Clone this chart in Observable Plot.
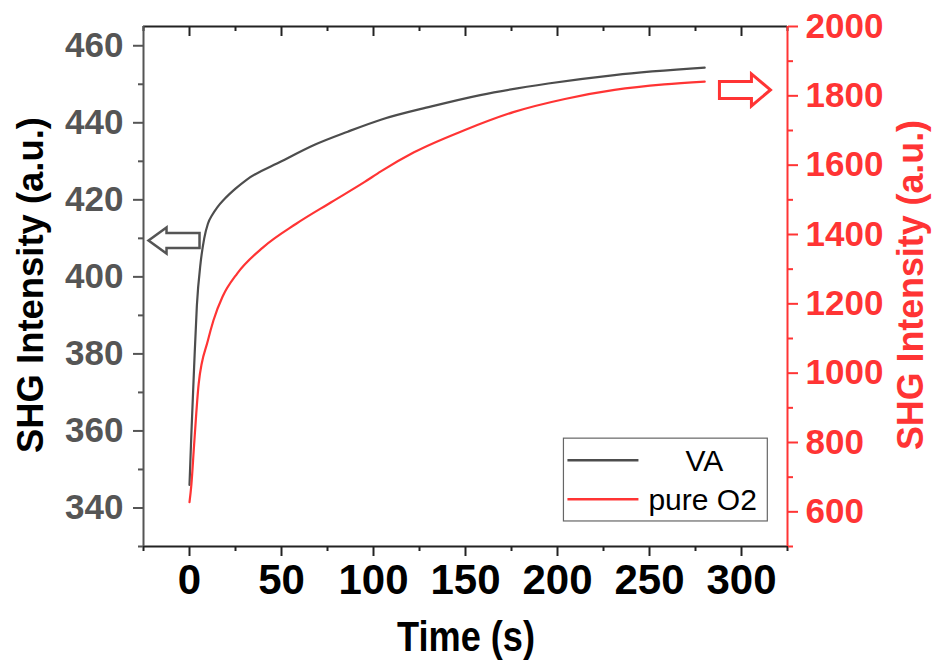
<!DOCTYPE html>
<html>
<head>
<meta charset="utf-8">
<script src="https://cdn.jsdelivr.net/npm/d3@7"></script>
<script src="https://cdn.jsdelivr.net/npm/@observablehq/plot@0.6"></script>
<style>
  html, body { margin: 0; padding: 0; background: #fff; }
  svg { display: block; }
</style>
</head>
<body>
<script>
// ---- data ----
const timeVA = [0, 1, 2.5, 4, 6, 8, 10, 12.5, 15, 19, 25, 31, 50, 68, 86, 104, 131, 158, 195, 231, 280];
const valuesVA = [346, 359, 376.5, 392.5, 403.5, 410, 413.8, 416.2, 418, 420.2, 422.9, 425.2, 430, 434.3, 437.7, 440.8, 444.2, 447.2, 450.2, 452.4, 454.3];
const timeO2 = [0, 1, 2.5, 5, 10, 13, 18, 26, 40, 58, 77, 95, 104, 122, 149, 176, 204, 231, 258, 280];
const valuesO2 = [628, 677, 793, 970, 1094, 1152, 1221, 1288, 1363, 1431, 1493, 1551, 1582, 1637, 1700, 1753, 1791, 1817, 1833, 1841];

const xTicks = [0, 50, 100, 150, 200, 250, 300];
const xMinorTicks = [-25, 25, 75, 125, 175, 225, 275, 325];
const leftTicks = [340, 360, 380, 400, 420, 440, 460];
const leftMinorTicks = [330, 350, 370, 390, 410, 430, 450];
const rightTicks = [600, 800, 1000, 1200, 1400, 1600, 1800, 2000];
const rightMinorTicks = [500, 700, 900, 1100, 1300, 1500, 1700, 1900];
const seriesNames = ["VA", "pure O2"];
const xLabel = "Time (s)";
const yLabel = "SHG Intensity (a.u.)";

const xDomain = [-25, 325];
const leftDomain = [330, 465];
const rightDomain = [500, 2000];
// the right axis shares the frame: map right values onto the left scale
const toLeft = v => leftDomain[0] + (v - rightDomain[0]) * (leftDomain[1] - leftDomain[0]) / (rightDomain[1] - rightDomain[0]);
const fromLeft = y => rightDomain[0] + (y - leftDomain[0]) * (rightDomain[1] - rightDomain[0]) / (leftDomain[1] - leftDomain[0]);

const GRAY = "#4d4d4d";
const RED = "#ff3434";
const DARK = "#222";

const vaData = timeVA.map((t, i) => ({t, v: valuesVA[i]}));
const o2Data = timeO2.map((t, i) => ({t, v: valuesO2[i]}));

const W = 939, H = 663;
const mL = 143, mR = 152, mT = 26, mB = 117;
const frameH = H - mT - mB;

const boldWide = {fontSize: 35, fontWeight: "bold", fontFamily: "Liberation Sans, Arial, sans-serif"};
const boldNarrow = {fontSize: 42, fontWeight: "bold", fontFamily: "Liberation Sans Narrow, Arial Narrow, sans-serif"};

const svg = Plot.plot({
  width: W, height: H,
  marginLeft: mL, marginRight: mR, marginTop: mT, marginBottom: mB,
  x: {domain: xDomain},
  y: {domain: leftDomain},
  style: {background: "#fff", overflow: "visible"},
  marks: [
    // bottom axis
    Plot.axisX(xTicks, {anchor: "bottom", tickSize: 10, tickPadding: 8, strokeWidth: 2, color: DARK, label: null, ...boldNarrow, fill: "#000"}),
    Plot.axisX(xMinorTicks, {anchor: "bottom", tickSize: 5, strokeWidth: 2, color: DARK, label: null, tickFormat: () => ""}),
    // top inward ticks
    Plot.ruleX(xTicks, {stroke: DARK, strokeWidth: 2, insetBottom: frameH - 10}),
    Plot.ruleX(xMinorTicks, {stroke: DARK, strokeWidth: 2, insetBottom: frameH - 5}),
    // left axis
    Plot.axisY(leftTicks, {anchor: "left", tickSize: 10, tickPadding: 10, strokeWidth: 2, color: "#555", label: null, ...boldWide}),
    Plot.axisY(leftMinorTicks, {anchor: "left", tickSize: 5, strokeWidth: 2, color: "#555", label: null, tickFormat: () => ""}),
    // right axis (red)
    Plot.axisY(rightTicks.map(toLeft), {anchor: "right", tickSize: 10, tickPadding: 8, strokeWidth: 2, color: RED, label: null, tickFormat: d => String(Math.round(fromLeft(d))), ...boldWide}),
    Plot.axisY(rightMinorTicks.map(toLeft), {anchor: "right", tickSize: 5, strokeWidth: 2, color: RED, label: null, tickFormat: () => ""}),
    // frame lines
    Plot.ruleY([leftDomain[1]], {stroke: DARK, strokeWidth: 2}),
    Plot.ruleY([leftDomain[0]], {stroke: DARK, strokeWidth: 2}),
    Plot.ruleX([xDomain[0]], {stroke: "#555", strokeWidth: 2}),
    Plot.ruleX([xDomain[1]], {stroke: RED, strokeWidth: 2}),
    // data
    Plot.line(vaData, {x: "t", y: "v", stroke: GRAY, strokeWidth: 2.2, curve: "monotone-x"}),
    Plot.line(o2Data, {x: "t", y: d => toLeft(d.v), stroke: RED, strokeWidth: 2.2, curve: "monotone-x"})
  ]
});

const xs = svg.scale("x"), ys = svg.scale("y");
const px = v => xs.apply(v), py = v => ys.apply(v);
const root = d3.select(svg);
const ff = "Liberation Sans, Arial, sans-serif";
const midY = (py(leftDomain[0]) + py(leftDomain[1])) / 2;

// axis titles
root.append("text")
  .attr("transform", `translate(43,${midY - 1}) rotate(-90)`)
  .attr("text-anchor", "middle").attr("font-family", ff).attr("font-weight", "bold")
  .attr("font-size", 36).attr("fill", "#000")
  .attr("textLength", 336).attr("lengthAdjust", "spacingAndGlyphs").text(yLabel);
root.append("text")
  .attr("transform", `translate(923,${midY - 1}) rotate(-90)`)
  .attr("text-anchor", "middle").attr("font-family", ff).attr("font-weight", "bold")
  .attr("font-size", 36).attr("fill", RED)
  .attr("textLength", 330).attr("lengthAdjust", "spacingAndGlyphs").text(yLabel);
root.append("text")
  .attr("x", (px(xDomain[0]) + px(xDomain[1])) / 2 + 1).attr("y", 651)
  .attr("text-anchor", "middle").attr("font-family", "Liberation Sans Narrow, Arial Narrow, sans-serif")
  .attr("font-weight", "bold").attr("font-size", 42).attr("fill", "#000")
  .attr("textLength", 138).attr("lengthAdjust", "spacingAndGlyphs").text(xLabel);

// hollow arrows
function arrow(tipX, cy, dir, color, sw, hl, hh, sh) {
  const L = 51;
  const p = [[0, 0], [hl, -hh], [hl, -sh], [L, -sh], [L, sh], [hl, sh], [hl, hh]]
    .map(([a, b]) => [tipX + dir * a, cy + b]);
  root.append("path").attr("d", "M" + p.map(q => q.join(",")).join("L") + "Z")
    .attr("fill", "#fff").attr("stroke", color).attr("stroke-width", sw).attr("stroke-linejoin", "miter");
}
arrow(px(-22), py(409.3), 1, "#555", 2.5, 18, 13, 7.5);
arrow(px(316), py(448.4), -1, RED, 3, 19, 16, 8.5);

// legend
const lx0 = px(203.5), lx1 = px(314.3), ly0 = py(358), ly1 = py(336.5);
root.append("rect").attr("x", lx0).attr("y", ly0).attr("width", lx1 - lx0).attr("height", ly1 - ly0)
  .attr("fill", "#fff").attr("stroke", "#666").attr("stroke-width", 1.2);
const rows = [{name: seriesNames[0], color: GRAY, y: ly0 + 22, anchor: "middle", tx: lx0 + 141},
              {name: seriesNames[1], color: RED, y: ly0 + 61, anchor: "start", tx: lx0 + 85}];
rows.forEach(r => {
  root.append("line").attr("x1", lx0 + 4).attr("x2", lx0 + 75).attr("y1", r.y).attr("y2", r.y)
    .attr("stroke", r.color).attr("stroke-width", 2.5);
  root.append("text").attr("x", r.tx).attr("y", r.y + 11).attr("text-anchor", r.anchor)
    .attr("font-family", ff).attr("font-size", 30).attr("fill", "#000").text(r.name);
});

document.body.appendChild(svg);
</script>
</body>
</html>
